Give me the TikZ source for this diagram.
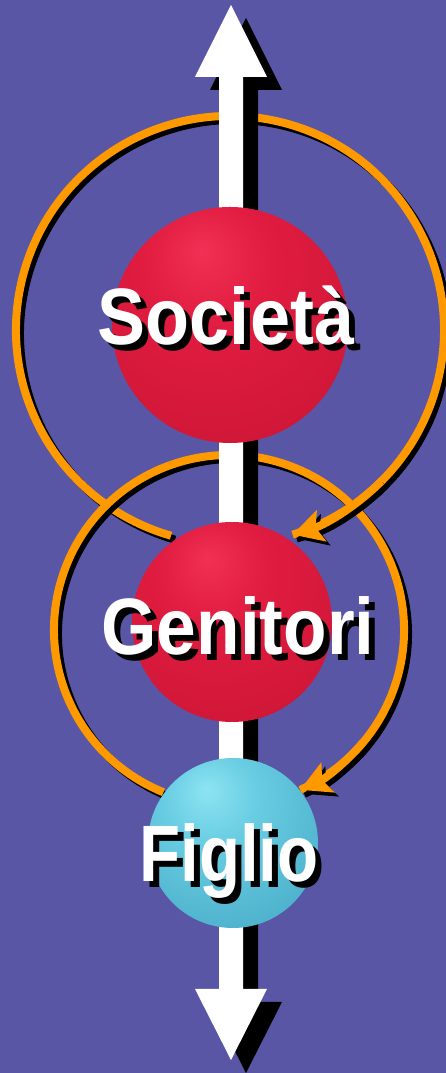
\documentclass[tikz,border=0pt]{standalone}
\usepackage{graphicx}
\usepackage{fontspec}
\setmainfont{Liberation Sans}
\usetikzlibrary{arrows.meta}
\definecolor{bgpurple}{RGB}{90,86,166}
\definecolor{orng}{RGB}{255,153,0}
\definecolor{redA}{RGB}{240,48,84}
\definecolor{redB}{RGB}{224,28,64}
\definecolor{redC}{RGB}{204,22,54}
\definecolor{redD}{RGB}{160,14,40}
\definecolor{cyA}{RGB}{140,228,242}
\definecolor{cyB}{RGB}{104,204,226}
\definecolor{cyC}{RGB}{72,172,200}
\definecolor{cyD}{RGB}{45,132,162}
\pgfdeclareradialshading{redsphere}{\pgfpoint{-6bp}{16bp}}{color(0bp)=(redA); color(14bp)=(redB); color(40bp)=(redC); color(60bp)=(redD); color(75bp)=(redD)}
\pgfdeclareradialshading{cyansphere}{\pgfpoint{-8bp}{16bp}}{color(0bp)=(cyA); color(14bp)=(cyB); color(40bp)=(cyC); color(60bp)=(cyD); color(75bp)=(cyD)}
\tikzset{
  orangearc/.style={draw=orng, line width=8pt},
  arcshadow/.style={draw=black, line width=8pt, transform canvas={xshift=4pt, yshift=-4pt}},
  arctip/.style={-{Stealth[length=30pt,width=32pt,inset=6pt]}},
  sphere/.style={circle, draw=none, inner sep=0pt},
  lbl/.style={text=white, inner sep=0pt, anchor=base, font=\fontsize{80}{80}\selectfont\bfseries},
  lblshadow/.style={lbl, text=black}
}
\begin{document}
\begin{tikzpicture}[x=1pt,y=1pt]
\useasboundingbox (0,0) rectangle (446,1073);
\fill[bgpurple] (0,0) rectangle (446,1073);
\coordinate (bigc) at (230,743);
\coordinate (smallc) at (229,443);
% orange loops (behind the axis)
\draw[arcshadow] ([shift={(254:214)}]bigc) arc[start angle=254, end angle=-73, radius=214];
\draw[orangearc] ([shift={(254:214)}]bigc) arc[start angle=254, end angle=-73, radius=214];
\draw[arcshadow] ([shift={(248:175)}]smallc) arc[start angle=248, end angle=-66, radius=175];
\draw[orangearc] ([shift={(248:175)}]smallc) arc[start angle=248, end angle=-66, radius=175];
% double arrow with shadow
\coordinate (ttip) at (231,1068);
\coordinate (btip) at (231,13);
\fill[black, transform canvas={xshift=15pt, yshift=-13pt}] (ttip) -- (267,996) -- (243,996) -- (243,84) -- (267,84) -- (btip) -- (195,84) -- (219,84) -- (219,996) -- (195,996) -- cycle;
\fill[white] (ttip) -- (267,996) -- (243,996) -- (243,84) -- (267,84) -- (btip) -- (195,84) -- (219,84) -- (219,996) -- (195,996) -- cycle;
% spheres
\node[sphere, minimum size=236pt, shading=redsphere] (soc) at (230,748) {};
\node[sphere, minimum size=200pt, shading=redsphere] (gen) at (232,451) {};
\node[sphere, minimum size=170pt, shading=cyansphere] (fig) at (233,230) {};
% arrow ends of the loops (in front)
\draw[arcshadow, arctip] ([shift={(-45:214)}]bigc) arc[start angle=-45, end angle=-73, radius=214];
\draw[orangearc, arctip] ([shift={(-45:214)}]bigc) arc[start angle=-45, end angle=-73, radius=214];
\draw[arcshadow, arctip] ([shift={(-40:175)}]smallc) arc[start angle=-40, end angle=-66, radius=175];
\draw[orangearc, arctip] ([shift={(-40:175)}]smallc) arc[start angle=-40, end angle=-66, radius=175];
% labels
\node[lblshadow] (socs) at (232,722) {\scalebox{0.9}[1]{Società}};
\node[lbl] (socl) at (226,728) {\scalebox{0.9}[1]{Società}};
\node[lblshadow] (gens) at (244,412) {\scalebox{0.89}[1]{Genitori}};
\node[lbl] (genl) at (238,418) {\scalebox{0.89}[1]{Genitori}};
\node[lblshadow] (figs) at (235,185) {\scalebox{0.84}[1]{Figlio}};
\node[lbl] (figl) at (229,191) {\scalebox{0.84}[1]{Figlio}};
\end{tikzpicture}
\end{document}
